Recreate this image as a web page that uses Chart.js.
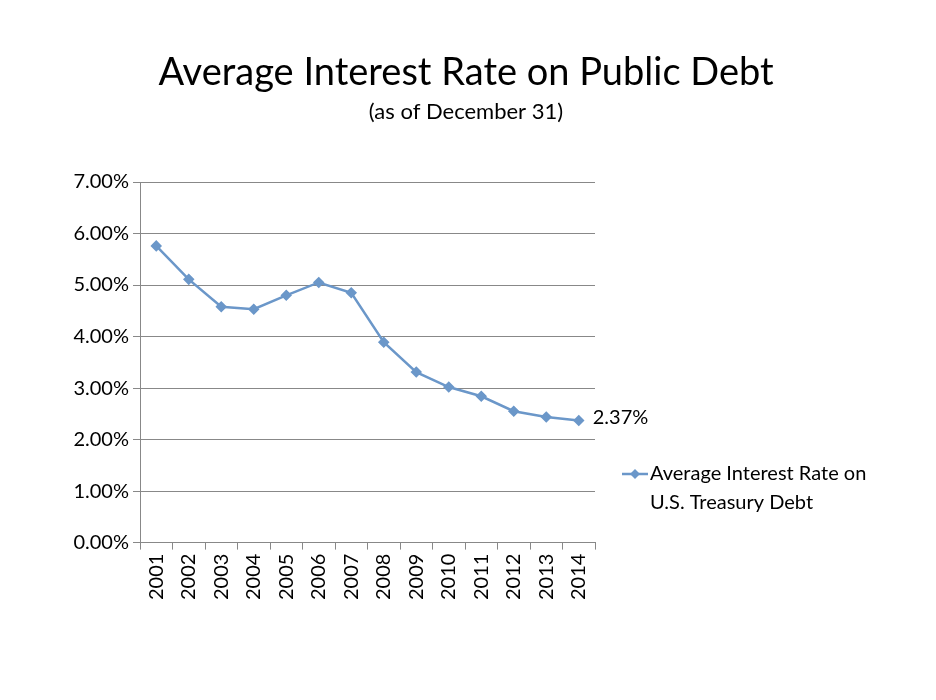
<!DOCTYPE html>
<html>
<head>
<meta charset="utf-8">
<style>
  html, body { margin: 0; padding: 0; background: #fff; }
  #wrap { width: 936px; height: 700px; }
</style>
<script src="https://cdn.jsdelivr.net/npm/chart.js@4"></script>
</head>
<body>
<div id="wrap"><canvas id="chart" width="936" height="700"></canvas></div>
<script>
const years = ['2001', '2002', '2003', '2004', '2005', '2006', '2007',
               '2008', '2009', '2010', '2011', '2012', '2013', '2014'];
const rates = [5.76, 5.11, 4.58, 4.53, 4.80, 5.05, 4.85,
               3.89, 3.31, 3.02, 2.84, 2.55, 2.44, 2.37];
const seriesName = ['Average Interest Rate on', 'U.S. Treasury Debt'];
const lineColor = '#6b97c9';
const font = 'Lato, "Open Sans", sans-serif';

// title, end label and legend drawn by hand
const extras = {
    id: 'extras',
    afterDraw(chart) {
        const ctx = chart.ctx;
        ctx.save();
        ctx.fillStyle = '#000';
        ctx.textAlign = 'center';
        ctx.textBaseline = 'alphabetic';
        ctx.font = '38px ' + font;
        ctx.fillText('Average Interest Rate on Public Debt', 466, 85);
        ctx.font = '22px ' + font;
        ctx.fillText('(as of December 31)', 466, 119);

        // value label on last point
        const meta = chart.getDatasetMeta(0);
        const last = meta.data[meta.data.length - 1];
        ctx.textAlign = 'left';
        ctx.textBaseline = 'middle';
        ctx.font = '20px ' + font;
        ctx.fillText(rates[rates.length - 1].toFixed(2) + '%', last.x + 14, last.y - 3);

        // legend
        const lx = 622, ly = 474;
        ctx.strokeStyle = lineColor;
        ctx.lineWidth = 2.5;
        ctx.beginPath();
        ctx.moveTo(lx, ly);
        ctx.lineTo(lx + 26, ly);
        ctx.stroke();
        ctx.fillStyle = lineColor;
        ctx.beginPath();
        ctx.moveTo(lx + 13, ly - 5);
        ctx.lineTo(lx + 18, ly);
        ctx.lineTo(lx + 13, ly + 5);
        ctx.lineTo(lx + 8, ly);
        ctx.closePath();
        ctx.fill();
        ctx.fillStyle = '#000';
        ctx.fillText(seriesName[0], lx + 28, ly);
        ctx.fillText(seriesName[1], lx + 28, ly + 29);
        ctx.restore();
    }
};

new Chart(document.getElementById('chart'), {
    type: 'line',
    data: {
        labels: years,
        datasets: [{
            label: seriesName.join(' '),
            data: rates,
            borderColor: lineColor,
            backgroundColor: lineColor,
            borderWidth: 2.5,
            pointStyle: 'rectRot',
            pointRadius: 4,
            tension: 0
        }]
    },
    options: {
        responsive: false,
        animation: false,
        layout: { padding: { top: 182, right: 341, left: 67, bottom: 96 } },
        plugins: {
            legend: { display: false },
            tooltip: { enabled: false }
        },
        scales: {
            x: {
                offset: true,
                grid: { offset: true, drawOnChartArea: false, color: '#888', tickLength: 7 },
                border: { color: '#888' },
                ticks: { color: '#000', font: { family: font, size: 20 }, minRotation: 90, maxRotation: 90, padding: 4 }
            },
            y: {
                min: 0,
                max: 7,
                afterFit(scale) { scale.width = 73; },
                ticks: {
                    stepSize: 1,
                    color: '#000',
                    font: { family: font, size: 20 },
                    padding: 4,
                    callback: v => v.toFixed(2) + '%'
                },
                grid: { color: '#888', tickLength: 7 },
                border: { color: '#888' }
            }
        }
    },
    plugins: [extras]
});
</script>
</body>
</html>
